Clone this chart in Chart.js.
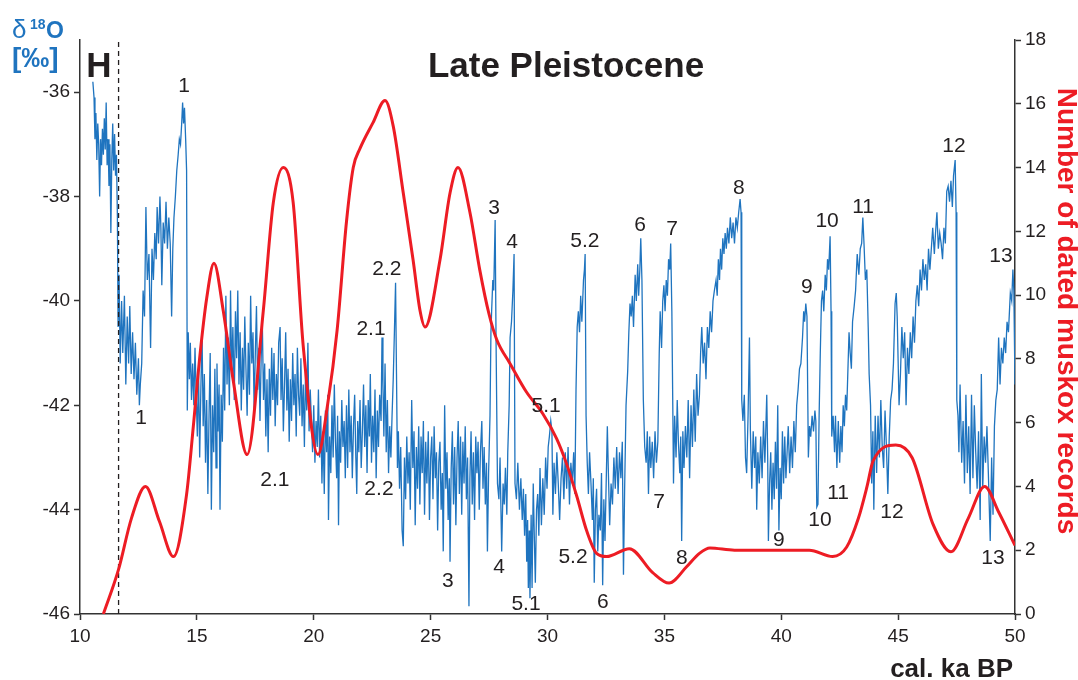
<!DOCTYPE html>
<html>
<head>
<meta charset="utf-8">
<script src="https://cdn.jsdelivr.net/npm/chart.js@4.4.1/dist/chart.umd.min.js"></script>
<style>
  html, body { margin: 0; padding: 0; background: #fff; }
  #wrap { width: 1078px; height: 680px; position: relative; }
</style>
</head>
<body>
<div id="wrap"><canvas id="chart" width="1078" height="680"></canvas></div>
<script>

// NGRIP d18O (permil) as [cal. ka BP, value]

const d18O_10_20 = [
  [10.55,-35.8],[10.6,-36.1],[10.64,-36.9],[10.68,-36.4],[10.72,-37.3],[10.76,-36.6],[10.8,-37.0],[10.84,-38.0],
  [10.88,-36.9],[10.92,-37.4],[10.96,-36.7],[11.0,-37.2],[11.04,-36.5],[11.08,-37.1],[11.12,-36.2],[11.16,-37.4],
  [11.2,-36.9],[11.24,-37.8],[11.28,-37.0],[11.32,-38.7],[11.36,-37.3],[11.4,-36.6],[11.44,-37.5],[11.48,-36.8],
  [11.52,-37.6],[11.56,-37.2],[11.6,-38.4],
  [11.63,-40.5],[11.67,-39.5],[11.72,-41.2],[11.78,-40.0],[11.83,-41.0],[11.9,-39.9],[11.96,-41.6],[12.02,-40.3],
  [12.08,-41.2],[12.13,-40.1],[12.19,-41.4],[12.25,-40.6],[12.31,-41.5],[12.37,-40.8],[12.43,-41.8],[12.5,-41.1],
  [12.54,-42.0],[12.58,-41.6],[12.64,-41.2],[12.7,-39.8],
  [12.76,-40.3],[12.82,-38.2],[12.88,-39.6],[12.95,-39.1],[13.02,-40.9],[13.08,-39.0],[13.14,-39.6],[13.2,-38.7],
  [13.26,-39.2],[13.3,-38.2],[13.36,-38.9],[13.42,-38.0],[13.46,-38.6],[13.5,-39.7],[13.56,-38.5],[13.62,-38.9],
  [13.68,-38.1],[13.74,-39.0],[13.8,-38.4],[13.86,-38.9],[13.92,-40.3],[13.97,-39.0],[14.02,-38.4],[14.08,-38.0],
  [14.14,-37.5],[14.2,-37.2],[14.25,-36.9],[14.3,-37.0],[14.35,-36.6],[14.39,-36.2],[14.43,-36.6],[14.47,-36.3],
  [14.52,-36.9],[14.56,-37.5],
  [14.59,-42.1],[14.63,-40.6],[14.68,-41.5],[14.72,-40.8],[14.77,-41.9],[14.82,-41.2],[14.87,-42.0],[14.92,-40.9],
  [14.97,-41.8],[15.02,-42.6],[15.07,-41.3],[15.12,-43.0],[15.17,-41.7],[15.22,-40.6],[15.27,-42.4],[15.32,-41.4],
  [15.37,-43.1],[15.42,-41.9],[15.47,-43.7],[15.52,-42.2],[15.57,-41.0],[15.62,-44.0],[15.67,-42.0],[15.72,-42.9],
  [15.77,-41.3],[15.82,-43.2],[15.86,-41.2],[15.9,-42.5],[15.95,-41.6],[15.99,-44.0],[16.04,-41.8],[16.09,-42.7],
  [16.14,-40.9],[16.19,-42.1],[16.24,-39.9],[16.29,-41.6],[16.34,-40.7],[16.39,-42.0],[16.44,-39.8],[16.49,-41.4],
  [16.54,-40.5],[16.6,-41.9],[16.65,-40.2],[16.7,-41.1],[16.75,-39.8],[16.8,-41.6],[16.85,-40.6],[16.9,-42.1],
  [16.95,-40.9],[17.0,-41.7],[17.05,-40.3],[17.1,-41.3],[17.15,-42.2],[17.2,-40.8],[17.25,-41.8],[17.3,-39.9],
  [17.35,-41.2],[17.4,-40.6],[17.45,-42.1],[17.5,-41.0],[17.55,-40.1],[17.6,-41.7],[17.65,-40.9],[17.7,-42.3],
  [17.75,-41.1],[17.8,-40.4],[17.85,-41.9],
  [17.9,-41.2],[17.95,-42.6],[18.0,-41.5],[18.05,-42.9],[18.1,-41.3],[18.15,-42.2],[18.2,-40.9],[18.25,-41.9],
  [18.3,-41.0],[18.35,-42.4],[18.4,-41.4],[18.45,-42.0],[18.5,-40.8],[18.56,-40.5],[18.6,-41.9],[18.65,-41.1],
  [18.7,-42.5],[18.75,-41.6],[18.8,-40.6],[18.85,-42.1],[18.9,-41.3],[18.95,-42.7],[19.0,-41.5],[19.05,-42.3],
  [19.1,-41.0],[19.15,-42.0],[19.2,-41.4],[19.25,-42.6],[19.3,-40.9],[19.35,-41.8],[19.4,-42.2],[19.45,-41.1],
  [19.5,-42.4],[19.55,-41.6],[19.6,-42.8],[19.65,-41.3],[19.7,-42.1],[19.75,-40.8],[19.8,-42.5],[19.85,-41.7],
  [19.9,-42.3],[19.95,-42.9]
];

const d18O_20_30 = [
  [20.0,-42.0],[20.05,-43.1],[20.1,-42.3],[20.15,-42.8],[20.2,-41.7],[20.25,-43.0],[20.3,-42.2],[20.35,-43.5],
  [20.4,-42.5],[20.45,-43.7],[20.5,-42.1],[20.55,-42.9],[20.6,-41.8],[20.63,-44.2],[20.68,-42.6],[20.73,-43.3],
  [20.78,-42.0],[20.83,-43.0],[20.88,-41.6],[20.93,-42.7],[20.98,-43.4],[21.02,-42.2],[21.06,-44.3],[21.1,-42.5],
  [21.15,-43.1],[21.2,-41.9],[21.25,-42.8],[21.3,-42.3],[21.35,-43.4],
  [21.4,-42.0],[21.45,-43.2],[21.5,-41.7],[21.55,-42.9],[21.6,-42.2],[21.65,-43.4],[21.7,-42.4],[21.75,-41.8],
  [21.8,-43.0],[21.84,-43.7],[21.88,-42.3],[21.93,-42.9],[21.98,-41.9],[22.03,-43.2],[22.08,-42.5],[22.13,-41.6],
  [22.18,-42.8],[22.23,-42.0],[22.28,-43.3],[22.33,-41.9],[22.38,-42.6],[22.42,-41.4],[22.47,-43.1],[22.52,-42.2],
  [22.57,-42.9],[22.62,-41.7],[22.67,-43.4],[22.72,-42.1],[22.77,-42.8],[22.82,-41.8],[22.88,-42.3],[22.92,-40.7],
  [22.96,-41.6],[23.0,-42.6],[23.05,-41.2],[23.1,-42.9],[23.15,-41.9],[23.2,-43.3],[23.25,-42.4],[23.3,-43.0],
  [23.35,-42.2],[23.4,-41.5],[23.45,-40.6],[23.5,-39.65],[23.54,-41.4],[23.58,-43.2],
  [23.62,-42.5],[23.67,-43.6],[23.72,-42.8],[23.78,-44.4],[23.83,-44.7],[23.88,-43.0],[23.93,-43.8],[23.98,-42.6],
  [24.03,-43.5],[24.08,-42.9],[24.13,-44.0],[24.19,-41.9],[24.24,-43.2],[24.29,-42.5],[24.34,-44.3],[24.39,-42.8],
  [24.44,-43.6],[24.49,-42.4],[24.54,-43.9],[24.59,-42.6],[24.64,-43.3],[24.69,-42.3],[24.74,-44.1],[24.79,-42.7],
  [24.84,-43.5],[24.9,-42.5],[24.95,-44.2],[25.0,-43.0],[25.05,-42.6],[25.1,-43.8],[25.15,-42.4],[25.2,-43.4],
  [25.25,-42.9],[25.3,-44.4],[25.35,-43.1],[25.4,-42.7],[25.45,-44.0],[25.5,-43.3],[25.54,-44.8],[25.6,-42.0],
  [25.65,-43.6],[25.7,-42.9],[25.75,-44.2],[25.8,-43.4],[25.83,-45.0],[25.88,-43.2],[25.93,-42.5],[25.98,-43.9],
  [26.03,-42.8],[26.08,-44.3],[26.13,-43.0],[26.18,-42.3],[26.23,-43.7],[26.28,-42.6],[26.33,-44.1],[26.38,-42.7],
  [26.43,-43.5],[26.48,-42.4],[26.53,-43.8],[26.58,-43.0],[26.64,-45.85],[26.68,-43.4],[26.73,-42.5],[26.78,-43.9],
  [26.83,-42.9],[26.88,-44.2],[26.93,-42.6],[26.98,-43.3],[27.03,-42.7],[27.08,-44.0],[27.13,-42.9],[27.19,-42.3],
  [27.24,-43.6],[27.29,-42.8],[27.34,-43.9],[27.39,-43.1],[27.43,-44.8],[27.48,-43.3],
  [27.54,-42.2],[27.58,-40.6],[27.61,-40.2],[27.66,-39.6],[27.7,-39.8],[27.76,-38.45],[27.8,-40.8],[27.86,-43.5],
  [27.92,-43.8],[27.97,-43.0],[28.04,-44.8],[28.1,-43.5],[28.15,-43.9],[28.2,-43.2],[28.26,-44.1],[28.3,-42.9],
  [28.36,-42.0],[28.4,-40.7],[28.46,-40.4],[28.52,-39.8],[28.57,-39.1],[28.61,-43.5],[28.67,-43.8],[28.73,-43.1],
  [28.8,-44.0],[28.86,-43.4],[28.92,-44.2],[28.97,-43.6],[29.02,-44.5],[29.07,-43.7],[29.11,-45.0],[29.15,-44.2],
  [29.18,-45.5],[29.22,-44.4],[29.25,-45.7],[29.3,-44.1],[29.34,-45.5],[29.39,-43.5],[29.44,-44.6],[29.48,-45.4],
  [29.53,-44.0],[29.58,-43.7],[29.63,-44.5],[29.68,-43.2],[29.74,-44.3],[29.8,-43.4],[29.86,-44.1],[29.92,-43.0],
  [29.98,-43.6]
];

const d18O_30_40 = [
  [30.03,-42.8],[30.08,-42.6],[30.14,-42.3],[30.19,-42.5],[30.23,-44.1],[30.28,-43.1],[30.34,-43.7],[30.4,-42.9],
  [30.46,-43.5],[30.52,-44.2],[30.58,-43.4],[30.64,-43.0],[30.7,-43.8],[30.76,-42.9],[30.82,-43.6],[30.88,-42.8],
  [30.94,-43.9],[31.0,-43.1],[31.06,-43.5],[31.12,-42.9],[31.17,-43.7],
  [31.22,-41.7],[31.27,-40.5],[31.32,-40.2],[31.37,-40.6],[31.42,-39.9],[31.47,-40.4],[31.54,-39.6],[31.58,-39.4],
  [31.61,-39.1],[31.65,-42.2],[31.7,-43.1],[31.75,-43.7],[31.8,-42.9],[31.86,-43.5],[31.92,-44.2],[31.96,-43.4],
  [32.0,-45.4],[32.05,-44.0],[32.1,-43.6],[32.15,-44.8],[32.2,-44.1],[32.26,-44.4],[32.31,-43.3],[32.36,-45.45],
  [32.41,-43.8],[32.46,-44.6],[32.51,-43.5],[32.56,-42.4],[32.6,-43.2],[32.66,-44.3],[32.72,-43.5],[32.78,-43.9],
  [32.84,-43.0],[32.9,-43.6],[32.96,-42.8],[33.02,-43.7],[33.08,-42.9],[33.14,-43.4],[33.2,-42.7],[33.25,-45.25],
  [33.3,-43.6],
  [33.36,-42.0],[33.43,-41.35],[33.48,-40.6],[33.53,-40.05],[33.58,-40.3],[33.63,-39.9],[33.68,-40.5],[33.75,-39.5],
  [33.8,-40.0],[33.86,-39.3],[33.9,-39.9],[33.95,-39.4],[33.99,-38.8],[34.04,-39.6],[34.1,-41.9],[34.16,-42.8],
  [34.22,-43.1],[34.27,-42.5],[34.32,-43.7],[34.37,-42.6],[34.42,-43.2],[34.48,-42.7],[34.54,-43.4],[34.6,-42.5],
  [34.66,-43.1],[34.72,-42.7],
  [34.78,-41.0],[34.82,-40.2],[34.88,-40.9],[34.93,-40.0],[34.98,-39.7],[35.03,-40.2],[35.08,-39.6],[35.13,-39.9],
  [35.18,-39.2],[35.23,-39.4],[35.27,-38.9],[35.32,-40.2],[35.36,-42.0],[35.39,-43.5],[35.44,-42.2],[35.5,-43.0],
  [35.55,-41.9],[35.6,-42.7],[35.66,-43.3],[35.7,-42.6],[35.74,-44.6],[35.79,-42.5],[35.84,-43.2],[35.9,-42.4],
  [35.96,-43.0],[36.02,-41.9],[36.08,-43.4],[36.14,-42.0],[36.2,-42.8],[36.26,-41.7],[36.32,-42.7],[36.38,-41.4],
  [36.44,-42.2],[36.5,-41.8],[36.55,-41.0],[36.6,-40.5],[36.66,-41.2],[36.72,-40.8],[36.78,-41.5],[36.84,-40.5],
  [36.9,-40.9],[36.96,-40.2],[37.02,-40.6],[37.08,-40.0],[37.14,-39.8],[37.21,-39.6],[37.26,-39.9],[37.31,-39.2],
  [37.36,-39.6],[37.4,-39.0],[37.45,-39.4],[37.5,-38.8],[37.55,-39.1],[37.6,-38.7],[37.65,-39.0],[37.7,-38.6],
  [37.76,-38.9],[37.82,-38.4],[37.88,-38.8],[37.94,-38.5],[38.0,-38.9],[38.06,-38.4],[38.12,-38.6],[38.18,-38.3],
  [38.24,-38.05],[38.28,-38.3],
  [38.31,-41.9],[38.36,-42.3],[38.42,-41.8],[38.47,-43.0],[38.52,-43.3],[38.58,-42.2],[38.64,-40.7],[38.68,-42.5],
  [38.74,-43.6],[38.8,-42.5],[38.86,-43.2],[38.91,-42.6],[38.95,-44.0],[39.0,-42.9],[39.06,-43.5],[39.12,-42.6],
  [39.18,-43.4],[39.24,-42.3],[39.3,-43.1],[39.38,-41.8],[39.42,-43.0],[39.45,-44.6],[39.5,-43.5],[39.55,-42.9],
  [39.6,-44.0],[39.65,-43.1],[39.7,-43.8],[39.75,-42.7],[39.8,-43.6],[39.85,-42.0],[39.9,-44.4],[39.95,-43.2]
];

const d18O_40_50 = [
  [40.0,-43.8],[40.05,-42.5],[40.1,-43.5],[40.15,-42.6],[40.2,-43.4],[40.25,-42.9],[40.3,-42.4],[40.36,-43.3],
  [40.42,-42.6],[40.48,-43.2],[40.54,-42.3],[40.6,-42.9],[40.66,-42.0],[40.72,-41.7],[40.78,-41.3],[40.84,-41.2],
  [40.91,-40.7],[40.96,-40.2],[41.0,-40.4],[41.05,-40.05],[41.1,-40.3],[41.16,-43.0],[41.21,-42.4],[41.26,-42.6],
  [41.32,-42.2],[41.38,-42.5],[41.44,-42.1],[41.48,-42.3],[41.52,-43.95],[41.57,-43.9],[41.62,-42.2],[41.67,-41.0],
  [41.72,-40.0],[41.77,-39.8],[41.82,-40.2],[41.88,-39.5],[41.93,-39.8],[41.98,-39.2],[42.03,-39.4],[42.09,-38.76],
  [42.13,-40.2],[42.16,-42.6],[42.22,-42.2],[42.28,-42.9],[42.32,-42.2],[42.38,-43.2],[42.44,-42.3],[42.5,-43.1],
  [42.55,-42.4],[42.6,-42.9],[42.65,-42.0],[42.7,-42.4],[42.75,-41.8],[42.8,-42.1],[42.86,-41.2],[42.9,-40.6],
  [42.95,-41.0],[43.0,-41.3],[43.05,-40.4],[43.12,-40.1],[43.18,-39.8],[43.25,-39.1],[43.32,-39.5],[43.38,-39.0],
  [43.44,-38.9],[43.49,-38.4],[43.54,-38.9],[43.6,-39.6],[43.66,-39.4],[43.72,-40.5],[43.76,-41.4],[43.82,-42.0],
  [43.87,-43.5],[43.92,-42.5],[43.96,-44.0],[44.02,-42.2],[44.08,-43.3],[44.14,-42.2],[44.2,-43.0],[44.26,-41.9],
  [44.32,-42.8],[44.38,-43.2],[44.44,-42.1],[44.5,-42.8],[44.56,-43.7],[44.62,-42.6],[44.68,-41.9],[44.74,-41.7],
  [44.8,-41.2],[44.87,-40.05],[44.92,-39.85],[44.96,-40.3],[45.04,-42.0],[45.1,-41.4],[45.16,-40.5],[45.22,-41.1],
  [45.28,-40.6],[45.34,-42.0],[45.4,-40.9],[45.46,-41.4],[45.52,-40.6],[45.58,-41.1],[45.64,-40.3],[45.7,-40.8],
  [45.76,-40.0],[45.82,-39.7],[45.88,-40.1],[45.94,-39.4],[46.0,-39.8],[46.06,-39.2],[46.12,-39.6],[46.18,-39.3],
  [46.24,-39.8],[46.3,-39.0],[46.36,-39.4],[46.42,-39.0],[46.48,-38.6],[46.55,-39.1],[46.6,-38.7],[46.66,-38.3],
  [46.72,-39.0],[46.78,-38.7],[46.84,-38.9],[46.9,-39.2],[46.96,-38.6],[47.02,-38.9],[47.08,-37.9],[47.14,-37.8],
  [47.2,-38.1],[47.26,-37.7],[47.32,-38.2],[47.37,-37.6],[47.44,-37.3],[47.48,-38.3],
  [47.51,-41.9],[47.56,-42.2],[47.6,-42.9],[47.65,-41.6],[47.72,-43.1],[47.78,-42.3],[47.84,-43.5],[47.9,-41.8],
  [47.96,-43.3],[48.02,-42.4],[48.08,-43.7],[48.14,-41.8],[48.2,-43.4],[48.26,-42.0],[48.32,-42.9],[48.38,-43.6],
  [48.44,-42.5],[48.51,-44.2],[48.56,-41.4],[48.62,-43.6],[48.68,-42.6],[48.74,-43.1],[48.8,-42.4],[48.86,-43.3],
  [48.94,-44.6],[49.0,-43.0],[49.06,-44.1],[49.12,-42.4],[49.18,-41.9],[49.24,-41.7],[49.3,-40.7],[49.36,-41.6],
  [49.42,-40.9],[49.48,-41.2],[49.54,-40.7],[49.6,-41.0],[49.66,-40.4],[49.72,-40.6],[49.8,-39.85],[49.86,-40.0],
  [49.91,-39.4],[49.95,-39.8],[50.0,-41.6]
];

// number of dated muskox records (smoothed curve, right axis)
const muskoxAge = [11.0, 11.65, 12.2, 12.8, 13.4, 14.0, 14.56, 14.85, 15.13, 15.42, 15.73, 16.13, 16.56, 17.15,
  17.84, 18.27, 18.7, 19.12, 19.55, 20.18, 20.6, 21.0, 21.4, 21.69, 21.98, 22.53, 23.05, 23.4, 23.83, 24.25,
  24.55, 24.76, 25.4, 25.83, 26.17, 26.68, 27.1, 27.5, 27.83, 28.4, 29.1, 29.8, 30.39, 30.82, 31.25, 31.68,
  32.1, 32.53, 33.5, 34.5, 35.2, 35.95, 36.5, 36.95, 38.0, 41.2, 42.2, 42.8, 43.3, 43.67, 43.93, 44.9, 45.6,
  46.5, 47.26, 48.0, 48.7, 49.3, 50.0];
const muskoxCount = [0.0, 1.4, 3.0, 4.0, 2.9, 1.8, 3.75, 5.9, 8.1, 9.9, 11.0, 9.5, 7.3, 5.0,
  9.5, 12.9, 14.0, 12.9, 8.4, 5.0, 6.6, 8.9, 12.3, 14.0, 14.6, 15.4, 16.1, 15.3, 13.2, 11.1,
  9.5, 9.0, 11.1, 13.2, 14.0, 12.6, 10.8, 9.4, 8.6, 7.85, 6.96, 6.28, 5.5, 4.7, 3.7, 2.6,
  1.9, 1.8, 2.05, 1.3, 0.97, 1.48, 1.9, 2.07, 2.0, 2.0, 1.8, 2.1, 3.0, 4.0, 4.8, 5.3, 4.9,
  2.8, 1.95, 3.0, 4.0, 3.2, 2.15];

// Greenland interstadial / stadial numbers [text, age, d18O]
const interstadialLabels = [
  ["1", 14.45, -35.89], ["2.1", 22.45, -40.55], ["2.2", 23.13, -39.4], ["3", 27.71, -38.22], ["4", 28.48, -38.87],
  ["5.1", 29.94, -42.02], ["5.2", 31.6, -38.85], ["6", 33.96, -38.54], ["7", 35.33, -38.62], ["8", 38.19, -37.84],
  ["9", 41.1, -39.73], ["10", 41.96, -38.47], ["11", 43.5, -38.2], ["12", 47.39, -37.03], ["13", 49.4, -39.14]
];
const stadialLabels = [
  ["1", 12.61, -42.25], ["2.1", 18.34, -43.44], ["2.2", 22.79, -43.61], ["3", 25.74, -45.37], ["4", 27.93, -45.1],
  ["5.1", 29.08, -45.81], ["5.2", 31.09, -44.91], ["6", 32.37, -45.77], ["7", 34.77, -43.86], ["8", 35.75, -44.93],
  ["9", 39.9, -44.59], ["10", 41.66, -44.2], ["11", 42.43, -43.69], ["12", 44.74, -44.05], ["13", 49.06, -44.93]
];

const holoceneBoundary = 11.65;

const BLUE = "#1f74bf";
const RED = "#ed1c24";
const INK = "#231f20";
const FONT = '"Liberation Sans", Arial, sans-serif';


// TEXT LAYER

const textLayer = {
    id: "textLayer",
    afterDatasetsDraw(chart) {
        const { ctx, scales } = chart;
        const xs = scales.x, ys = scales.y;

        ctx.save();
        ctx.fillStyle = INK;
        ctx.textAlign = "center";
        ctx.textBaseline = "middle";
        ctx.font = "21px " + FONT;
        interstadialLabels.concat(stadialLabels).forEach(([t, a, v]) => {
            ctx.fillText(t, xs.getPixelForValue(a), ys.getPixelForValue(v));
        });

        // title and Holocene mark
        ctx.textBaseline = "alphabetic";
        ctx.font = "bold 35px " + FONT;
        ctx.fillText("Late Pleistocene", 566, 77);
        ctx.fillText("H", 99, 77);

        // x axis title
        ctx.textAlign = "right";
        ctx.font = "bold 26px " + FONT;
        ctx.fillText("cal. ka BP", 1013, 677);

        // left axis title
        ctx.fillStyle = BLUE;
        ctx.textAlign = "left";
        ctx.font = "26px " + FONT;
        ctx.fillText("\u03b4", 12, 38);
        ctx.font = "bold 14px " + FONT;
        ctx.fillText("18", 30, 29);
        ctx.font = "bold 23px " + FONT;
        ctx.fillText("O", 46, 38);
        ctx.font = "bold 28px " + FONT;
        ctx.fillText("[\u2030]", 12, 67);

        // right axis title
        ctx.fillStyle = RED;
        ctx.translate(1066, 311);
        ctx.rotate(Math.PI / 2);
        ctx.textAlign = "center";
        ctx.textBaseline = "middle";
        ctx.font = "bold 28px " + FONT;
        ctx.fillText("Number of dated muskox records", 0, 0);
        ctx.restore();
    }
};


// CHART

const toXY = rows => rows.map(([x, y]) => ({ x, y }));
const d18O = [].concat(d18O_10_20, d18O_20_30, d18O_30_40, d18O_40_50);

const axisLine = { display: true, color: "#333", width: 1.5 };
const tickMarks = { display: true, drawOnChartArea: false, drawTicks: true, tickLength: 6, tickWidth: 1.5, tickColor: "#333" };
const tickFont = { family: FONT, size: 19 };

new Chart(document.getElementById("chart"), {
    type: "line",
    data: {
        datasets: [
            {
                label: "Muskox records",
                data: muskoxAge.map((a, i) => ({ x: a, y: muskoxCount[i] })),
                yAxisID: "y2",
                borderColor: RED,
                borderWidth: 3,
                pointRadius: 0,
                cubicInterpolationMode: "monotone"
            },
            {
                label: "Holocene boundary",
                data: [{ x: holoceneBoundary, y: -46 }, { x: holoceneBoundary, y: -35 }],
                yAxisID: "y",
                borderColor: INK,
                borderWidth: 1.3,
                borderDash: [5, 4],
                pointRadius: 0
            },
            {
                label: "NGRIP d18O",
                data: toXY(d18O),
                yAxisID: "y",
                borderColor: BLUE,
                borderWidth: 1.3,
                pointRadius: 0,
                tension: 0
            }
        ]
    },
    options: {
        responsive: false,
        animation: false,
        devicePixelRatio: 1,
        layout: { padding: { top: 40, left: 0, right: 0, bottom: 0 } },
        plugins: { legend: { display: false }, tooltip: { enabled: false } },
        scales: {
            x: {
                type: "linear",
                min: 10,
                max: 50,
                border: axisLine,
                grid: tickMarks,
                ticks: { stepSize: 5, padding: 5, color: INK, font: tickFont, maxRotation: 0 },
                afterFit: s => { s.height = 66; }
            },
            y: {
                type: "linear",
                position: "left",
                min: -46,
                max: -35,
                border: axisLine,
                grid: tickMarks,
                ticks: { stepSize: 2, includeBounds: false, padding: 4, color: INK, font: tickFont },
                afterBuildTicks: s => { s.ticks = s.ticks.filter(t => t.value <= -36); },
                afterFit: s => { s.width = 80; }
            },
            y2: {
                type: "linear",
                position: "right",
                min: 0,
                max: 18,
                border: axisLine,
                grid: tickMarks,
                ticks: { stepSize: 2, padding: 4, color: INK, font: tickFont },
                afterFit: s => { s.width = 63; }
            }
        }
    },
    plugins: [textLayer]
});

</script>
</body>
</html>
